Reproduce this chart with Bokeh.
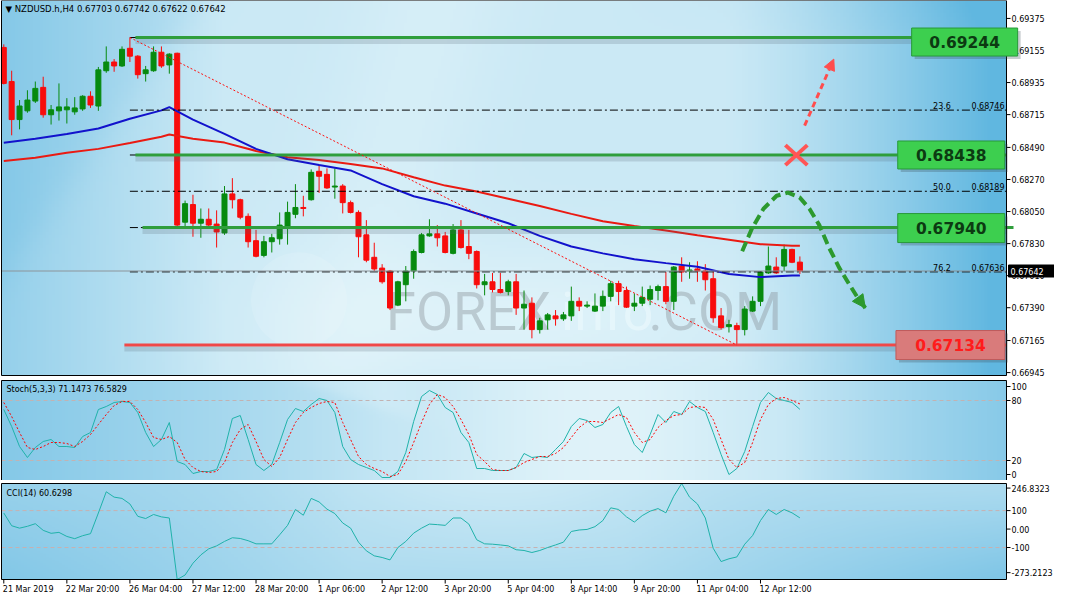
import numpy as np
from bokeh.plotting import figure
from bokeh.layouts import column
from bokeh.models import Range1d, ColumnDataSource, Arrow, NormalHead
from bokeh.core.properties import value
from bokeh.embed import file_html
from bokeh.resources import INLINE

# ------------------------------------------------------------------ data
title_text = "\u25bc NZDUSD.h,H4  0.67703 0.67742 0.67622 0.67642"

opens = [0.69176, 0.68942, 0.68681, 0.68741, 0.68808, 0.68902, 0.68714, 0.68741, 0.68748, 0.68734,
         0.68754, 0.68841, 0.68774, 0.69016, 0.69076, 0.69049, 0.69170, 0.69116, 0.68996, 0.69016,
         0.69143, 0.69056, 0.69136, 0.67977, 0.68098, 0.67970, 0.67997, 0.67964, 0.67903, 0.68171,
         0.68131, 0.68017, 0.67850, 0.67749, 0.67843, 0.67863, 0.67950, 0.68031, 0.68078, 0.68131,
         0.68326, 0.68305, 0.68218, 0.68225, 0.68111, 0.68044, 0.67890, 0.67736, 0.67662, 0.67642,
         0.67408, 0.67548, 0.67642, 0.67769, 0.67883, 0.67897, 0.67883, 0.67763, 0.67924, 0.67810,
         0.67776, 0.67548, 0.67568, 0.67515, 0.67501, 0.67568, 0.67388, 0.67421, 0.67240, 0.67307,
         0.67334, 0.67314, 0.67334, 0.67434, 0.67401, 0.67367, 0.67401, 0.67468, 0.67555, 0.67508,
         0.67401, 0.67421, 0.67448, 0.67508, 0.67535, 0.67434, 0.67676, 0.67642, 0.67656, 0.67642,
         0.67589, 0.67334, 0.67260, 0.67267, 0.67240, 0.67367, 0.67434, 0.67629, 0.67669, 0.67676,
         0.67790, 0.67703]
highs = [0.69197, 0.69016, 0.68815, 0.68882, 0.68942, 0.68975, 0.68781, 0.68929, 0.68828, 0.68835,
         0.68848, 0.68875, 0.69042, 0.69183, 0.69096, 0.69183, 0.69244, 0.69123, 0.69049, 0.69183,
         0.69183, 0.69136, 0.69140, 0.68125, 0.68165, 0.68071, 0.68071, 0.68058, 0.68225, 0.68279,
         0.68138, 0.68037, 0.67924, 0.67883, 0.67897, 0.68044, 0.68118, 0.68238, 0.68158, 0.68339,
         0.68372, 0.68346, 0.68346, 0.68238, 0.68125, 0.68058, 0.67991, 0.67836, 0.67689, 0.67649,
         0.67575, 0.67676, 0.67790, 0.67903, 0.67997, 0.67957, 0.67910, 0.67964, 0.67991, 0.67924,
         0.67783, 0.67622, 0.67629, 0.67629, 0.67582, 0.67622, 0.67508, 0.67461, 0.67321, 0.67354,
         0.67374, 0.67361, 0.67535, 0.67461, 0.67434, 0.67488, 0.67508, 0.67575, 0.67575, 0.67535,
         0.67488, 0.67535, 0.67542, 0.67548, 0.67635, 0.67676, 0.67736, 0.67702, 0.67709, 0.67689,
         0.67642, 0.67388, 0.67307, 0.67287, 0.67401, 0.67468, 0.67642, 0.67810, 0.67736, 0.67823,
         0.67795, 0.67742]
lows = [0.68922, 0.68573, 0.68614, 0.68728, 0.68795, 0.68694, 0.68647, 0.68674, 0.68654, 0.68714,
        0.68741, 0.68761, 0.68741, 0.69002, 0.69009, 0.69042, 0.69076, 0.68962, 0.68942, 0.69009,
        0.69036, 0.68996, 0.67944, 0.67944, 0.67877, 0.67870, 0.67937, 0.67803, 0.67890, 0.68071,
        0.67997, 0.67803, 0.67736, 0.67736, 0.67769, 0.67823, 0.67823, 0.68004, 0.68017, 0.68125,
        0.68178, 0.68205, 0.68138, 0.68037, 0.68037, 0.67736, 0.67702, 0.67642, 0.67555, 0.67374,
        0.67401, 0.67434, 0.67589, 0.67763, 0.67877, 0.67810, 0.67763, 0.67756, 0.67796, 0.67723,
        0.67522, 0.67475, 0.67495, 0.67488, 0.67475, 0.67341, 0.67240, 0.67180, 0.67213, 0.67240,
        0.67267, 0.67300, 0.67300, 0.67367, 0.67388, 0.67361, 0.67367, 0.67434, 0.67408, 0.67388,
        0.67367, 0.67401, 0.67408, 0.67441, 0.67414, 0.67374, 0.67568, 0.67589, 0.67568, 0.67508,
        0.67287, 0.67240, 0.67220, 0.67134, 0.67200, 0.67361, 0.67401, 0.67622, 0.67622, 0.67642,
        0.67696, 0.67622]
closes = [0.68929, 0.68681, 0.68774, 0.68815, 0.68895, 0.68714, 0.68748, 0.68768, 0.68768, 0.68761,
          0.68841, 0.68781, 0.69022, 0.69076, 0.69049, 0.69163, 0.69116, 0.68989, 0.69022, 0.69143,
          0.69049, 0.69130, 0.67957, 0.68104, 0.67970, 0.67997, 0.67957, 0.67910, 0.68171, 0.68131,
          0.68011, 0.67843, 0.67743, 0.67843, 0.67870, 0.67957, 0.68044, 0.68078, 0.68071, 0.68319,
          0.68292, 0.68212, 0.68225, 0.68111, 0.68044, 0.67877, 0.67716, 0.67656, 0.67568, 0.67388,
          0.67568, 0.67642, 0.67776, 0.67890, 0.67897, 0.67870, 0.67769, 0.67924, 0.67803, 0.67763,
          0.67548, 0.67568, 0.67515, 0.67495, 0.67568, 0.67388, 0.67414, 0.67240, 0.67300, 0.67341,
          0.67314, 0.67341, 0.67434, 0.67401, 0.67408, 0.67401, 0.67468, 0.67555, 0.67501, 0.67394,
          0.67421, 0.67461, 0.67515, 0.67535, 0.67434, 0.67669, 0.67635, 0.67649, 0.67642, 0.67582,
          0.67321, 0.67254, 0.67274, 0.67240, 0.67381, 0.67434, 0.67635, 0.67676, 0.67629, 0.67790,
          0.67702, 0.67642]

# moving averages (values read at every 4th bar)
ma_idx = [0, 4, 8, 12, 16, 20, 21, 24, 28, 32, 36, 40, 44, 48, 52, 56, 60, 64, 68, 72, 76, 80, 84,
          88, 92, 96, 100, 101]
ma_blue = [0.68522, 0.68549, 0.68582, 0.68620, 0.68687, 0.68744, 0.68766, 0.68681, 0.68583, 0.68480,
           0.68409, 0.68369, 0.68332, 0.68238, 0.68155, 0.68104, 0.68037, 0.67970, 0.67883, 0.67810,
           0.67763, 0.67723, 0.67696, 0.67671, 0.67622, 0.67600, 0.67611, 0.67611]
ma_red = [0.68397, 0.68419, 0.68453, 0.68480, 0.68520, 0.68563, 0.68578, 0.68550, 0.68523, 0.68466,
          0.68423, 0.68403, 0.68376, 0.68346, 0.68285, 0.68228, 0.68188, 0.68138, 0.68088, 0.68034,
          0.67984, 0.67950, 0.67920, 0.67887, 0.67857, 0.67826, 0.67816, 0.67816]

stoch_k = [71, 54, 34, 23, 33, 39, 41, 34, 34, 33, 44, 48, 71, 74, 78, 79, 78, 68, 48, 34,
           41, 58, 19, 16, 7, 9, 9, 11, 31, 62, 65, 41, 16, 10, 16, 38, 61, 72, 69, 76,
           82, 80, 68, 34, 21, 16, 13, 10, 3, 3, 9, 28, 59, 84, 90, 86, 73, 68, 48, 38,
           12, 12, 10, 10, 10, 13, 27, 23, 24, 23, 31, 39, 54, 62, 60, 53, 56, 68, 74, 54,
           36, 28, 46, 66, 58, 69, 66, 79, 73, 69, 48, 26, 6, 12, 29, 54, 78, 88, 82, 80,
           78, 71.1473]
stoch_d = [78, 64, 48, 33, 31, 34, 38, 38, 37, 34, 39, 46, 56, 66, 75, 79, 79, 71, 58, 43,
           41, 44, 38, 21, 13, 9, 8, 9, 18, 38, 51, 56, 39, 21, 14, 23, 41, 58, 68, 73,
           77, 79, 78, 58, 41, 24, 16, 12, 9, 4, 6, 19, 38, 58, 76, 86, 83, 74, 61, 46,
           26, 19, 11, 10, 10, 13, 18, 21, 24, 24, 27, 33, 43, 53, 59, 59, 58, 62, 66, 63,
           48, 38, 41, 53, 60, 65, 66, 73, 74, 73, 61, 41, 21, 13, 18, 38, 61, 76, 82, 83,
           80, 76.5829]
cci = [87, 18, 5, 15, 29, -7, -23, -18, -40, -52, -36, -25, 87, 202, 173, 166, 136, 69, 57, 79,
       66, 60, -273.2123, -249, -185, -140, -107, -91, -67, -47, -51, -63, -80, -80, -80, -31, 20,
       106, 75, 166, 147, 108, 84, 33, 5, -71, -118, -145, -154, -167, -100, -67, -22, 5, 27, 24,
       20, 60, 60, 27, -58, -80, -82, -86, -91, -112, -116, -127, -116, -100, -86, -71, -13, -5,
       -2, 13, 46, 115, 106, 66, 38, 73, 97, 111, 88, 178, 246.8323, 173, 136, 60, -104, -176,
       -161, -151, -82, -35, 46, 106, 79, 106, 88, 60.6298]

date_ticks = [0, 8, 16, 24, 32, 40, 48, 56, 64, 72, 80, 88, 96]
date_labels = ["21 Mar 2019", "22 Mar 20:00", "26 Mar 04:00", "27 Mar 12:00", "28 Mar 20:00",
               "1 Apr 06:00", "2 Apr 12:00", "3 Apr 20:00", "5 Apr 04:00", "8 Apr 14:00",
               "9 Apr 20:00", "11 Apr 04:00", "12 Apr 12:00"]
price_ticks = [0.69375, 0.69155, 0.68935, 0.68715, 0.68490, 0.68270, 0.68050, 0.67830, 0.67610,
               0.67390, 0.67165, 0.66945]
stoch_ticks = [94, 80, 20, 6]
stoch_tick_labels = ["100", "80", "20", "0"]
stoch_levels = [80, 20]
cci_ticks = [222, 100, 0, -100, -236]
cci_tick_labels = ["246.8323", "100", "0.00", "-100", "-273.2123"]
cci_levels = [100, -100]

fib_names = ["0.0", "23.6", "38.2", "50.0", "61.8", "76.2", "100.0"]
fib_prices = [0.69244, 0.68746, 0.68438, 0.68189, 0.67940, 0.67636, 0.67134]
fib_shown = ["23.6", "50.0", "76.2"]

key_levels = [0.69244, 0.68438, 0.67940, 0.67134]
key_labels = ["0.69244", "0.68438", "0.67940", "0.67134"]

# drawn forecast (bar index, price)
curve_idx = [93.68, 94.93, 96.38, 98.05, 99.5, 100.96, 102.21, 103.46, 104.71, 105.96, 107.21,
             108.25, 109.3]
curve_price = [0.67778, 0.67935, 0.68069, 0.68158, 0.68180, 0.68147, 0.68069, 0.67957, 0.67801,
               0.67667, 0.67555, 0.67466, 0.67388]
up_arrow_idx = [101.6, 105.3]
up_arrow_price = [0.68640, 0.69096]
cross_idx = 100.55
cross_price = 0.68437

# ------------------------------------------------------------------ layout constants
FONT = "DejaVu Sans"
TOTAL_W = 1054
X0, X1 = -0.29, 127.21           # chart area (bars)
PANEL_W = 1005
bar_px = PANEL_W / (X1 - X0)
XS = X0 - 1.0 / bar_px           # figure range start (1px for the left border)
XE = XS + TOTAL_W / bar_px       # includes the price-axis area
xr = Range1d(XS, XE)

H_MAIN, GAP_MAIN = 375, 3
P0, P1 = 0.66925, 0.69498
ppx = (P1 - P0) / H_MAIN
H_ST, GAP_ST = 100, 2
S0, S1 = 0.0, 100.0
H_CCI, GAP_CCI, BOTTOM_CCI = 96, 3, 18
C0, C1 = -273.2123, 246.8323
cpp = (C1 - C0) / H_CCI


def bg_image(kind, nx=320, ny=120):
    u = np.linspace(0, 1, nx)[None, :] + np.zeros((ny, 1))
    t = np.linspace(1, 0, ny)[:, None] + np.zeros((1, nx))  # 0 = top
    cl = lambda a: np.clip(a, 0, 1)
    sig = lambda a: 1 / (1 + np.exp(-a))
    if kind == "main":
        w = 0.20 + 0.40 * cl((0.22 - u) / 0.22) + 0.85 * cl((u - 0.72) / 0.28) ** 1.3
        w += 0.12 * sig((200 - (u * 1020 + t * 385 * 0.7)) / 12)
        w -= 0.08 * np.exp(-((u - 0.33 - 0.10 * (1 - t)) ** 2) / 0.006)
        w -= 0.14 * np.exp(-((u - 0.52) ** 2 / 0.05 + (t - 0.85) ** 2 / 0.04))
        w += 0.10 * cl((0.12 - t) / 0.12) * cl((u - 0.6) / 0.4)
    elif kind == "stoch":
        w = 0.30 + 0.42 * cl((0.38 - u) / 0.38) + 0.40 * cl((u - 0.78) / 0.22)
        w -= 0.25 * np.exp(-((u - 0.6) ** 2) / 0.03)
        w -= 0.10 * sig(((u * 1020 - 300) - t * 300) / 10) * sig((0.4 - u) * 60)
    else:
        w = 0.42 + 0.32 * cl((0.35 - u) / 0.35) * (0.5 + 0.5 * t)
        w += 0.35 * cl((u - 0.62) / 0.38) * t
        w -= 0.22 * np.exp(-((u - 0.5) ** 2) / 0.04) * (1 - t)
    w = cl(w)
    light = np.array([230.0, 246.0, 251.0])
    dark = np.array([96.0, 183.0, 224.0])
    rgb = light[None, None, :] * (1 - w[..., None]) + dark[None, None, :] * w[..., None]
    img = np.empty((ny, nx), dtype=np.uint32)
    view = img.view(dtype=np.uint8).reshape((ny, nx, 4))
    view[..., :3] = rgb.astype(np.uint8)
    view[..., 3] = 255
    return img


def make_fig(y0, y1, fh):
    p = figure(frame_width=TOTAL_W, frame_height=fh, x_range=xr, y_range=Range1d(y0, y1),
               output_backend="svg", toolbar_location=None, x_axis_location=None,
               y_axis_location=None, min_border=0, background_fill_color="white",
               border_fill_color="white")
    p.grid.visible = False
    p.outline_line_color = None
    return p


def panel(p, kind, y0, y1):
    p.image_rgba(image=[bg_image(kind)], x=X0, y=y0, dw=X1 - X0, dh=y1 - y0)


def frame_box(p, y0, y1):
    p.quad(left=[X0], right=[X1], bottom=[y0], top=[y1], fill_color=None, line_color="black",
           line_width=1)


def right_axis(p, ticks, labels):
    n = len(ticks)
    p.segment(x0=[X1] * n, y0=ticks, x1=[X1 + 4 / bar_px] * n, y1=ticks, line_color="black",
              line_width=1)
    p.text(x=[X1] * n, y=ticks, text=labels, x_offset=5, text_baseline="middle",
           text_align="left", text_font=value(FONT), text_font_size="8px", text_color="black")


def hlines(p, levels, color):
    n = len(levels)
    p.segment(x0=[X0] * n, y0=levels, x1=[X1] * n, y1=levels, line_color=color, line_width=1,
              line_dash="4 3")


# ------------------------------------------------------------------ main panel
p = make_fig(P0 - GAP_MAIN * ppx, P1, H_MAIN + GAP_MAIN)
panel(p, "main", P0, P1)

# watermark
p.circle(x=[37.46], y=[0.67441], radius=48, radius_units="screen",
         fill_color="white", fill_alpha=0.12, line_color=None)
p.text(x=[48.5], y=[0.67367], text=["FOREX"], text_font=value("Roboto"), text_font_size="54px",
       text_color="#8a949a", text_alpha=0.42, text_baseline="alphabetic")
p.text(x=[70.7], y=[0.67367], text=["info"], text_font=value("Roboto"), text_font_size="54px",
       text_color="#eaf8fc", text_alpha=0.7, text_baseline="alphabetic")
p.text(x=[81.8], y=[0.67367], text=[".COM"], text_font=value("Roboto"), text_font_size="54px",
       text_color="#8a949a", text_alpha=0.42, text_baseline="alphabetic")

# candles
idx = list(range(len(closes)))
col_up, col_dn = "#078a0f", "#f80c0c"
colors = [col_up if c >= o else col_dn for o, c in zip(opens, closes)]
src = ColumnDataSource(dict(x=idx, o=opens, h=highs, l=lows, c=closes,
                            top=[max(o, c) for o, c in zip(opens, closes)],
                            bot=[min(o, c) for o, c in zip(opens, closes)], col=colors))
p.segment(x0="x", y0="l", x1="x", y1="h", line_color="col", line_width=1, source=src)
p.vbar(x="x", width=5 / bar_px, top="top", bottom="bot", fill_color="col", line_color="col",
       line_width=1, source=src)

# moving averages
p.line(ma_idx, ma_red, line_color="#ea1a12", line_width=2)
p.line(ma_idx, ma_blue, line_color="#1212cc", line_width=2)

# fibonacci dash-dot lines
fib_start = 16
p.segment(x0=[fib_start] * len(fib_prices), y0=fib_prices, x1=[X1] * len(fib_prices),
          y1=fib_prices, line_color="black", line_width=1, line_dash="8 3 2 3")

# current price (bid) line
p.segment(x0=[X0], y0=[closes[-1]], x1=[X1], y1=[closes[-1]], line_color="#8c949a",
          line_width=1)

# key levels with soft shadow
lvl_start = [16.7, 16.7, 17.6, 15.3]
lvl_color = ["#2f9e3c", "#2f9e3c", "#2f9e3c", "#f04848"]
p.segment(x0=lvl_start, y0=[v - 4 * ppx for v in key_levels], x1=[X1] * 4,
          y1=[v - 4 * ppx for v in key_levels], line_color="#506070", line_alpha=0.2,
          line_width=5)
p.segment(x0=lvl_start, y0=key_levels, x1=[X1 + 7 / bar_px, X1, X1 + 7 / bar_px, X1],
          y1=key_levels, line_color=lvl_color, line_width=3)

# trendline from swing high to swing low
hi_i = int(np.argmax(highs))
lo_i = int(np.argmin(lows))
p.line([hi_i, lo_i], [highs[hi_i], lows[lo_i]], line_color="#ff1010", line_width=1,
       line_dash="2 2")

# forecast drawings
p.line(curve_idx, curve_price, line_color="#2c992e", line_width=4, line_dash="10 5")
p.add_layout(Arrow(end=NormalHead(size=13, fill_color="#2c992e", line_color="#2c992e"),
                   x_start=curve_idx[-2], y_start=curve_price[-2],
                   x_end=curve_idx[-1], y_end=curve_price[-1], line_alpha=0))
p.add_layout(Arrow(end=NormalHead(size=11, fill_color="#ff4d4d", line_color="#ff4d4d"),
                   x_start=up_arrow_idx[0], y_start=up_arrow_price[0],
                   x_end=up_arrow_idx[1], y_end=up_arrow_price[1],
                   line_color="#ff4d4d", line_width=3, line_dash="6 4"))
dxc, dyc = 11 / bar_px, 10 * ppx
p.segment(x0=[cross_idx - dxc, cross_idx - dxc], y0=[cross_price - dyc, cross_price + dyc],
          x1=[cross_idx + dxc, cross_idx + dxc], y1=[cross_price + dyc, cross_price - dyc],
          line_color="#ff5555", line_width=4)

# fib labels
fib_y = [fib_prices[fib_names.index(n)] for n in fib_shown]
p.text(x=[117.9] * 3, y=fib_y, text=fib_shown, text_font=value(FONT), text_font_size="8px",
       text_color="black", text_baseline="bottom", y_offset=-1)
p.text(x=[X1] * 3, y=fib_y, text=["%.5f" % v for v in fib_y], text_font=value(FONT),
       text_font_size="8px", text_color="black", text_baseline="bottom", text_align="right",
       x_offset=-2, y_offset=-1)

# title
p.text(x=[X0], y=[P1], text=[title_text], text_font=value(FONT), text_font_size="8.5px",
       text_color="black", text_baseline="top", x_offset=4, y_offset=3)

frame_box(p, P0, P1)
right_axis(p, price_ticks, ["%.5f" % v for v in price_ticks])

# level boxes (the top one overlaps the axis edge like the original)
box_x = [121.9, 120.2, 120.2, 120.1]
box_y = [key_levels[0] - 4.5 * ppx, key_levels[1], key_levels[2] - 0.5 * ppx, key_levels[3]]
box_w = [106, 107, 107, 109]
box_h = [28, 28, 29, 29]
box_fill = ["#3dcf4f", "#3dcf4f", "#3dcf4f", "#d97b7b"]
box_line = ["#28993a", "#28993a", "#28993a", "#bf5a5a"]
box_text = ["#0c3a12", "#0c3a12", "#0c3a12", "#ff1c1c"]
p.rect(x=[b + 3 / bar_px for b in box_x], y=[b - 3 * ppx for b in box_y], width=box_w,
       height=box_h, width_units="screen", height_units="screen", fill_color="#3a4a55",
       fill_alpha=0.28, line_color=None)
p.rect(x=box_x, y=box_y, width=box_w, height=box_h, width_units="screen", height_units="screen",
       fill_color=box_fill, line_color=box_line, line_width=1)
p.text(x=box_x, y=box_y, text=key_labels, text_align="center", text_baseline="middle",
       text_font=value(FONT), text_font_style="bold", text_font_size="15.5px",
       text_color=box_text)

# current price tag on the axis
p.rect(x=[X1 + 25 / bar_px], y=[closes[-1]], width=46, height=12, width_units="screen",
       height_units="screen", fill_color="black", line_color="black")
p.text(x=[X1], y=[closes[-1]], text=["%.5f" % closes[-1]], x_offset=4, text_baseline="middle",
       text_align="left", text_font=value(FONT), text_font_size="8px", text_color="white")

# ------------------------------------------------------------------ stochastic
ps = make_fig(S0, S1 + GAP_ST, H_ST + GAP_ST)
panel(ps, "stoch", S0, S1)
hlines(ps, stoch_levels, "#c2b2b2")
ps.line(idx, stoch_k, line_color="#20b2aa", line_width=1)
ps.line(idx, stoch_d, line_color="#ff0000", line_width=1, line_dash="2 2")
ps.text(x=[X0], y=[S1], text=["Stoch(5,3,3) %.4f %.4f" % (stoch_k[-1], stoch_d[-1])],
        text_font=value(FONT), text_font_size="8px", text_color="black", text_baseline="top",
        x_offset=5, y_offset=4)
frame_box(ps, S0, S1)
right_axis(ps, stoch_ticks, stoch_tick_labels)

# ------------------------------------------------------------------ CCI
pc = make_fig(C0 - BOTTOM_CCI * cpp, C1 + GAP_CCI * cpp, H_CCI + GAP_CCI + BOTTOM_CCI)
panel(pc, "cci", C0, C1)
hlines(pc, cci_levels, "#c8b0b0")
pc.line(idx, cci, line_color="#20b2aa", line_width=1)
pc.text(x=[X0], y=[C1], text=["CCI(14) %.4f" % cci[-1]], text_font=value(FONT),
        text_font_size="8px", text_color="black", text_baseline="top", x_offset=5, y_offset=5)
frame_box(pc, C0, C1)
right_axis(pc, cci_ticks, cci_tick_labels)

# time axis
nd = len(date_ticks)
pc.segment(x0=date_ticks, y0=[C0] * nd, x1=date_ticks, y1=[C0 - 4 * cpp] * nd,
           line_color="black", line_width=1)
pc.text(x=date_ticks, y=[C0 - 5 * cpp] * nd, text=date_labels, x_offset=-1,
        text_font=value(FONT), text_font_size="8px", text_color="black", text_align="left",
        text_baseline="top")

layout = column(p, ps, pc)
open("out.html", "w").write(file_html(layout, INLINE))
